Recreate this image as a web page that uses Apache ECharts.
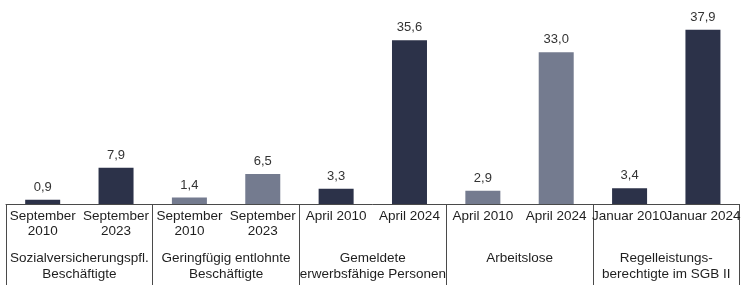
<!DOCTYPE html>
<html>
<head>
<meta charset="utf-8">
<script src="https://cdn.jsdelivr.net/npm/echarts@6/dist/echarts.min.js"></script>
<style>
  html, body { margin: 0; padding: 0; background: #fff; }
  #chart { width: 743px; height: 285px; }
</style>
</head>
<body>
<div id="chart"></div>
<script>
// Zeitpunkte (untere Achse, Ebene 1)
const periods = [
    'September\n2010', 'September\n2023',
    'September\n2010', 'September\n2023',
    'April 2010', 'April 2024',
    'April 2010', 'April 2024',
    'Januar 2010', 'Januar 2024'
]
// Gruppen (untere Achse, Ebene 2)
const groups = [
    'Sozialversicherungspfl.\nBeschäftigte',
    'Geringfügig entlohnte\nBeschäftigte',
    'Gemeldete\nerwerbsfähige Personen',
    'Arbeitslose',
    'Regelleistungs-\nberechtigte im SGB II'
]
// Werte in Prozent
const values = [0.9, 7.9, 1.4, 6.5, 3.3, 35.6, 2.9, 33.0, 3.4, 37.9]
// Farbe je Gruppe: dunkel oder grau
const groupShade = ['dark', 'grey', 'dark', 'grey', 'dark']

const shades = { dark: '#2c3249', grey: '#747b8f' }
const font = 'Liberation Sans, Arial, sans-serif'

let chart = echarts.init(document.getElementById('chart'))

chart.setOption({
    animation: false,
    grid: {
        left: 6,
        top: 20,
        width: 743,
        height: 184
    },
    xAxis: [{
        type: 'category',
        data: periods,
        position: 'bottom',
        axisLine: { show: false },
        axisTick: { show: false },
        axisLabel: {
            interval: 0,
            hideOverlap: false,
            margin: 5,
            lineHeight: 15,
            fontSize: 13.5,
            fontFamily: font,
            color: '#1e1e1e'
        }
    }, {
        type: 'category',
        data: groups,
        position: 'bottom',
        axisLine: { show: true, lineStyle: { color: '#4a4a4a', width: 1 } },
        axisTick: {
            show: true,
            length: 82,
            lineStyle: { color: '#4a4a4a', width: 1 }
        },
        axisLabel: {
            interval: 0,
            margin: 46,
            lineHeight: 16,
            fontSize: 13.5,
            fontFamily: font,
            color: '#1e1e1e'
        }
    }],
    yAxis: {
        type: 'value',
        min: 0,
        max: 40,
        show: false
    },
    series: [{
        type: 'bar',
        xAxisIndex: 0,
        barWidth: 35,
        data: values.map((v, i) => ({
            value: v,
            itemStyle: { color: shades[groupShade[Math.floor(i / 2)]] }
        })),
        label: {
            show: true,
            position: 'top',
            distance: 6,
            fontSize: 13,
            fontFamily: font,
            color: '#333',
            formatter: p => p.value.toFixed(1).replace('.', ',')
        }
    }]
})
</script>
</body>
</html>
